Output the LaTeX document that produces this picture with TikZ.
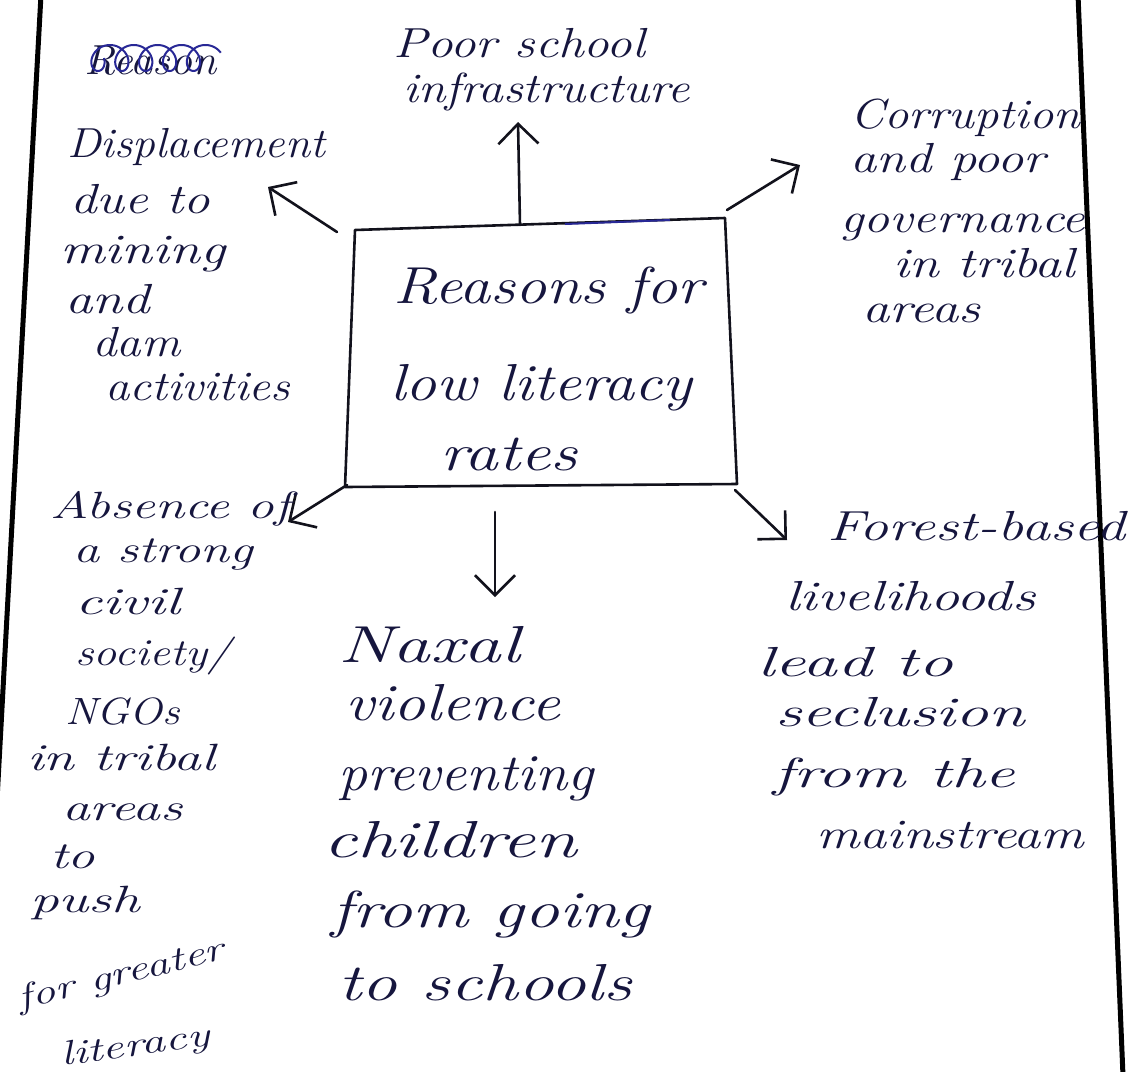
\documentclass[tikz,border=0pt]{standalone}
\usepackage{graphicx}
\usetikzlibrary{arrows.meta}
\definecolor{ink}{RGB}{22,22,62}
\definecolor{pen}{RGB}{18,18,28}
\definecolor{bluepen}{RGB}{40,40,150}
\newcommand\hwline[2]{\resizebox{#1pt}{\height}{#2}}
\begin{document}
\begin{tikzpicture}[x=1pt,y=-1pt,
  hw/.style={anchor=base west, inner sep=0pt, text=ink, font=\fontsize{42}{48}\selectfont\itshape},
  hwleft/.style={hw, font=\fontsize{38}{44}\selectfont\itshape},
  hwbig/.style={hw, font=\fontsize{52}{58}\selectfont\itshape},
  hwsmall/.style={hw, font=\fontsize{34}{40}\selectfont\itshape},
  stroke/.style={draw=pen, line width=2.6pt, line cap=round, line join=round},
  arr/.style={stroke, -{Straight Barb[length=20pt,width=40pt]}},
  border/.style={draw=black, line width=5pt}]
\useasboundingbox[fill=white] (0,0) rectangle (1140,1071);

% page borders
\draw[border] (41,-5) -- (16,450) -- (-3,800);
\draw[border] (1078,-5) -- (1123,1076);

% central box
\coordinate (bTL) at (355,230);
\coordinate (bTR) at (725,218);
\coordinate (bBR) at (737,484);
\coordinate (bBL) at (345,487);
\draw[stroke] (bTL) -- (bTR) -- (bBR) -- (bBL) -- cycle;
\coordinate (ov1) at (565,224);
\coordinate (ov2) at (670,220);
\draw[bluepen, line width=2pt] (ov1) -- (ov2);

\node[hwbig] (c1) at (393,303) {\hwline{310}{Reasons for}};
\node[hwbig] (c2) at (390,400) {\hwline{302}{low literacy}};
\node[hwbig] (c3) at (440,470) {\hwline{137}{rates}};

% arrows
\coordinate (sU) at (520,225);   \coordinate (tU) at (518,122);
\coordinate (sUL) at (337,232);  \coordinate (tUL) at (268,187);
\coordinate (sUR) at (727,210);  \coordinate (tUR) at (800,165);
\coordinate (sLL) at (347,485);  \coordinate (tLL) at (288,522);
\coordinate (sD) at (495,512);   \coordinate (tD) at (495,597);
\coordinate (sLR) at (735,490);  \coordinate (tLR) at (787,540);
\draw[arr] (sU) -- (tU);
\draw[arr] (sUL) -- (tUL);
\draw[arr] (sUR) -- (tUR);
\draw[arr] (sLL) -- (tLL);
\draw[arr] (sD) -- (tD);
\draw[arr] (sLR) -- (tLR);

% crossed-out word
\node[hw] (rs) at (84,74) {\hwline{132}{Reason}};
\draw[bluepen, line width=2pt] plot[domain=0:31, samples=320, smooth] ({92 + 3.8*\x + 12*cos(\x r)}, {58 + 13*sin(\x r)});

% top left
\node[hw] (d1) at (67,157) {\hwline{258}{Displacement}};
\node[hw] (d2) at (70,213) {\hwline{140}{due to}};
\node[hw] (d3) at (60,263) {\hwline{165}{mining}};
\node[hw] (d4) at (65,313) {\hwline{85}{and}};
\node[hw] (d5) at (92,356) {\hwline{88}{dam}};
\node[hw] (d6) at (105,400) {\hwline{185}{activities}};

% top centre
\node[hw] (p1) at (393,57) {\hwline{252}{Poor school}};
\node[hw] (p2) at (403,102) {\hwline{287}{infrastructure}};

% top right
\node[hw] (g1) at (850,128) {\hwline{230}{Corruption}};
\node[hw] (g2) at (850,172) {\hwline{195}{and poor}};
\node[hw] (g3) at (840,232) {\hwline{245}{governance}};
\node[hw] (g4) at (893,277) {\hwline{182}{in tribal}};
\node[hw] (g5) at (862,322) {\hwline{118}{areas}};

% bottom left
\node[hwleft] (n1) at (50,518) {\hwline{240}{Absence of}};
\node[hwleft] (n2) at (73,562) {\hwline{180}{a strong}};
\node[hwleft] (n3) at (75,614) {\hwline{105}{civil}};
\node[hwleft] (n4) at (75,665) {\hwline{155}{society/}};
\node[hwleft] (n5) at (65,724) {\hwline{115}{NGOs}};
\node[hwleft] (n6) at (27,770) {\hwline{188}{in tribal}};
\node[hwleft] (n7) at (62,820) {\hwline{120}{areas}};
\node[hwleft] (n8) at (50,868) {\hwline{45}{to}};
\node[hwleft] (n9) at (30,912) {\hwline{110}{push}};
\node[hwsmall, rotate=14] (n10) at (20,1010) {\hwline{212}{for greater}};
\node[hwsmall, rotate=8] (n11) at (62,1066) {\hwline{150}{literacy}};

% bottom centre
\node[hwbig] (x1) at (338,662) {\hwline{182}{Naxal}};
\node[hwbig] (x2) at (345,720) {\hwline{215}{violence}};
\node[hwbig] (x3) at (338,790) {\hwline{255}{preventing}};
\node[hwbig] (x4) at (323,857) {\hwline{254}{children}};
\node[hwbig] (x5) at (331,927) {\hwline{319}{from going}};
\node[hwbig] (x6) at (338,1000) {\hwline{294}{to schools}};

% bottom right
\node[hw] (f1) at (827,540) {\hwline{298}{Forest-based}};
\node[hw] (f2) at (785,610) {\hwline{250}{livelihoods}};
\node[hw] (f3) at (757,676) {\hwline{196}{lead to}};
\node[hw] (f4) at (775,726) {\hwline{250}{seclusion}};
\node[hw] (f5) at (773,787) {\hwline{242}{from the}};
\node[hw] (f6) at (816,848) {\hwline{268}{mainstream}};
\end{tikzpicture}
\end{document}
